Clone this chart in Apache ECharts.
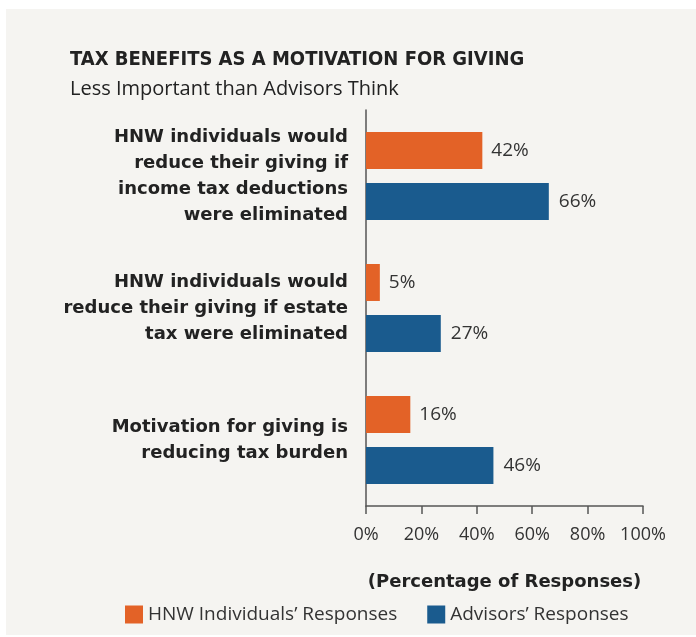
<!DOCTYPE html>
<html><head><meta charset="utf-8">
<script src="https://cdn.jsdelivr.net/npm/echarts@6/dist/echarts.min.js"></script>
<style>html,body{margin:0;padding:0;background:#fff;}#c{width:696px;height:637px;}</style>
</head><body><div id="c"></div>
<script>
const categories = [
  "HNW individuals would\nreduce their giving if\nincome tax deductions\nwere eliminated",
  "HNW individuals would\nreduce their giving if estate\ntax were eliminated",
  "Motivation for giving is\nreducing tax burden"
];
const hnwValues = [42, 5, 16];
const advisorValues = [66, 27, 46];
const seriesNames = ["HNW Individuals\u2019 Responses", "Advisors\u2019 Responses"];

const chart = echarts.init(document.getElementById('c'));
const txt = '#222';
chart.setOption({
  backgroundColor: '#fff',
  graphic: [{type:'rect', left: 6, top: 9, shape:{width: 690, height: 626}, style:{fill:'#f5f4f1'}, z:-10}],
  title: [
    {text:'TAX BENEFITS AS A MOTIVATION FOR GIVING', left: 70, top: 50, padding: 0,
     textStyle:{fontFamily:'"DejaVu Sans Condensed", "DejaVu Sans"', fontWeight:'bold', fontSize:20, color:txt}},
    {text:'Less Important than Advisors Think', left: 70, top: 79, padding: 0,
     textStyle:{fontFamily:'"Open Sans"', fontWeight:'normal', fontSize:20, color:txt}}
  ],
  legend: {
    bottom: 8, left: 120, itemWidth: 18, itemHeight: 18, itemGap: 30,
    textStyle:{fontFamily:'"Open Sans"', fontSize:19, color:'#333'},
    data: seriesNames, icon: 'rect'
  },
  grid: {left: 366, right: 53, top: 110, height: 396, containLabel: false},
  xAxis: {
    type:'value', min:0, max:100, interval:20,
    axisLine:{show:true, lineStyle:{color:'#555', width:1.5}},
    axisTick:{show:true, length:8, lineStyle:{color:'#555', width:1.5}},
    splitLine:{show:false},
    axisLabel:{formatter:'{value}%', fontFamily:'"Open Sans"', fontSize:18, color:'#333', margin:20},
    name:'(Percentage of Responses)', nameLocation:'middle', nameGap:67,
    nameTextStyle:{fontFamily:'"DejaVu Sans"', fontWeight:'bold', fontSize:18, color:txt}
  },
  yAxis: {
    type:'category', data: categories, inverse:true,
    axisLine:{show:true, lineStyle:{color:'#555', width:1.5}},
    axisTick:{show:false},
    axisLabel:{fontFamily:'"DejaVu Sans"', fontWeight:'bold', fontSize:18, color:txt, lineHeight:26, align:'right', margin:18}
  },
  series: [
    {name: seriesNames[0], type:'bar', data: hnwValues, barWidth:37, barGap:'38%',
     itemStyle:{color:'#e36227'},
     label:{show:true, position:'right', distance:9, formatter:'{c}%', fontFamily:'"Open Sans"', fontSize:19, color:'#333'}},
    {name: seriesNames[1], type:'bar', data: advisorValues, barWidth:37,
     itemStyle:{color:'#1a5b8e'},
     label:{show:true, position:'right', distance:10, formatter:'{c}%', fontFamily:'"Open Sans"', fontSize:19, color:'#333'}}
  ]
});
</script></body></html>
